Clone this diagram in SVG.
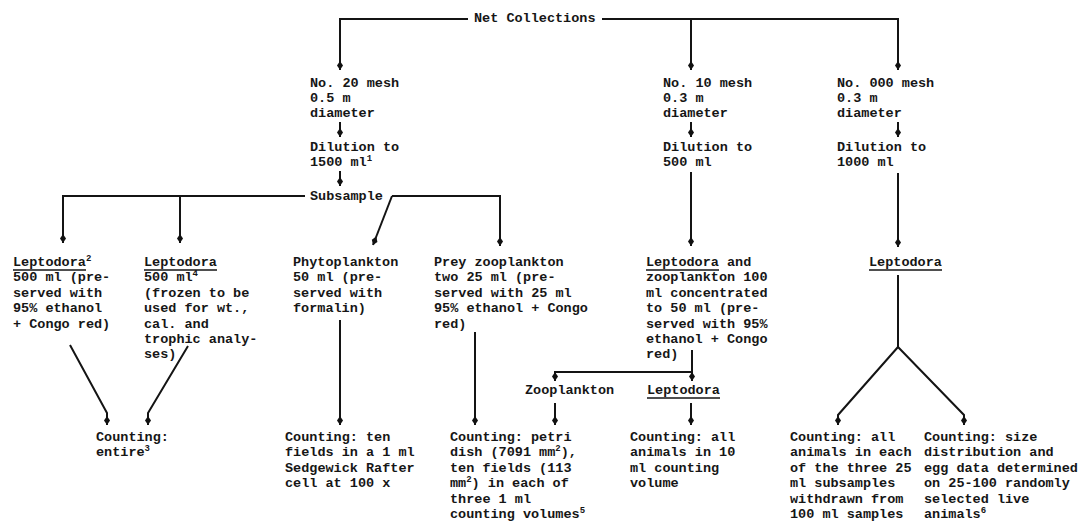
<svg xmlns="http://www.w3.org/2000/svg" width="1082" height="527" viewBox="0 0 1082 527">
<defs>
<marker id="dia" markerUnits="userSpaceOnUse" markerWidth="12" markerHeight="8" viewBox="-10 -4 12 8" refX="0" refY="0" orient="auto">
<path d="M0,0 L-4.5,-3 L-9,0 L-4.5,3 Z" fill="#111"/>
</marker>
<style>
text{font-family:"Liberation Mono","DejaVu Sans Mono",monospace;font-size:13.5px;font-weight:bold;fill:#161616}
.c{fill:none;stroke:#141414;stroke-width:2}
.a{marker-end:url(#dia)}
.u{stroke:#141414;stroke-width:1.5}
.s{font-size:9px}
</style>
</defs>
<rect width="1082" height="527" fill="#fff"/>
<g id="connectors">
<path class="c a" d="M468,19 H340 V70"/>
<path class="c a" d="M602,19 H898 V70"/>
<path class="c a" d="M691,19 V70"/>
<path class="c a" d="M340,122 V137"/>
<path class="c a" d="M340,171 V186"/>
<path class="c a" d="M691,122 V137"/>
<path class="c a" d="M898,122 V137"/>
<path class="c a" d="M305,196 H63 V243"/>
<path class="c a" d="M180,196 V243"/>
<path class="c a" d="M392,196 H500 V246"/>
<path class="c a" d="M392,196 L373,245"/>
<path class="c a" d="M691,172 V246"/>
<path class="c a" d="M898,173 V247"/>
<path class="c" d="M898,275 V347"/>
<path class="c a" d="M898,347 L838,415 V425"/>
<path class="c a" d="M898,347 L964,415 V425"/>
<path class="c a" d="M70,345 L107,413 V425"/>
<path class="c a" d="M188,346 L148,413 V425"/>
<path class="c a" d="M340,320 V425"/>
<path class="c a" d="M475,332 V425"/>
<path class="c a" d="M692,350 V381"/>
<path class="c a" d="M692,372 H555 V381"/>
<path class="c a" d="M555,403 V425"/>
<path class="c a" d="M691,403 V425"/>
</g>
<g id="net-collections"><text x="474" y="22">Net Collections</text></g>
<g id="mesh20">
<text x="310" y="87">No. 20 mesh</text>
<text x="310" y="102">0.5 m</text>
<text x="310" y="117">diameter</text>
</g>
<g id="dilution1500">
<text x="310" y="151">Dilution to</text>
<text x="310" y="166">1500 ml<tspan class="s" dy="-5">1</tspan></text>
</g>
<g id="subsample"><text x="310" y="200">Subsample</text></g>
<g id="mesh10">
<text x="663" y="87">No. 10 mesh</text>
<text x="663" y="102">0.3 m</text>
<text x="663" y="117">diameter</text>
</g>
<g id="dilution500">
<text x="663" y="151">Dilution to</text>
<text x="663" y="166">500 ml</text>
</g>
<g id="mesh000">
<text x="837" y="87">No. 000 mesh</text>
<text x="837" y="102">0.3 m</text>
<text x="837" y="117">diameter</text>
</g>
<g id="dilution1000">
<text x="837" y="151">Dilution to</text>
<text x="837" y="166">1000 ml</text>
</g>
<g id="leptodora-ethanol">
<text x="13" y="266">Leptodora<tspan class="s" dy="-5">2</tspan></text>
<line class="u" x1="13" y1="270" x2="86" y2="270"/>
<text x="13" y="281.4">500 ml (pre-</text>
<text x="13" y="296.8">served with</text>
<text x="13" y="312.2">95% ethanol</text>
<text x="13" y="327.6">+ Congo red)</text>
</g>
<g id="leptodora-frozen">
<text x="144" y="266">Leptodora</text>
<line class="u" x1="144" y1="270" x2="217" y2="270"/>
<text x="144" y="281.4">500 ml<tspan class="s" dy="-5">4</tspan></text>
<text x="144" y="296.8">(frozen to be</text>
<text x="144" y="312.2">used for wt.,</text>
<text x="144" y="327.6">cal. and</text>
<text x="144" y="343">trophic analy-</text>
<text x="144" y="358.4">ses)</text>
</g>
<g id="phytoplankton">
<text x="293" y="266">Phytoplankton</text>
<text x="293" y="281.4">50 ml (pre-</text>
<text x="293" y="296.8">served with</text>
<text x="293" y="312.2">formalin)</text>
</g>
<g id="prey-zooplankton">
<text x="434" y="266">Prey zooplankton</text>
<text x="434" y="281.4">two 25 ml (pre-</text>
<text x="434" y="296.8">served with 25 ml</text>
<text x="434" y="312.2">95% ethanol + Congo</text>
<text x="434" y="327.6">red)</text>
</g>
<g id="leptodora-zooplankton">
<text x="646" y="266">Leptodora and</text>
<line class="u" x1="646" y1="270" x2="719" y2="270"/>
<text x="646" y="281.4">zooplankton 100</text>
<text x="646" y="296.8">ml concentrated</text>
<text x="646" y="312.2">to 50 ml (pre-</text>
<text x="646" y="327.6">served with 95%</text>
<text x="646" y="343">ethanol + Congo</text>
<text x="646" y="358.4">red)</text>
</g>
<g id="leptodora-live">
<text x="869" y="266">Leptodora</text>
<line class="u" x1="869" y1="270" x2="942" y2="270"/>
</g>
<g id="zooplankton"><text x="525" y="394">Zooplankton</text></g>
<g id="leptodora-sub">
<text x="647" y="394">Leptodora</text>
<line class="u" x1="647" y1="398" x2="720" y2="398"/>
</g>
<g id="count-entire">
<text x="96" y="441">Counting:</text>
<text x="96" y="456.4">entire<tspan class="s" dy="-5">3</tspan></text>
</g>
<g id="count-ten">
<text x="285" y="441">Counting: ten</text>
<text x="285" y="456.4">fields in a 1 ml</text>
<text x="285" y="471.8">Sedgewick Rafter</text>
<text x="285" y="487.2">cell at 100 x</text>
</g>
<g id="count-petri">
<text x="450" y="441">Counting: petri</text>
<text x="450" y="456.4">dish (7091 mm<tspan class="s" dy="-5">2</tspan><tspan dy="5">),</tspan></text>
<text x="450" y="471.8">ten fields (113</text>
<text x="450" y="487.2">mm<tspan class="s" dy="-5">2</tspan><tspan dy="5">) in each of</tspan></text>
<text x="450" y="502.6">three 1 ml</text>
<text x="450" y="518">counting volumes<tspan class="s" dy="-5">5</tspan></text>
</g>
<g id="count-all10">
<text x="630" y="441">Counting: all</text>
<text x="630" y="456.4">animals in 10</text>
<text x="630" y="471.8">ml counting</text>
<text x="630" y="487.2">volume</text>
</g>
<g id="count-all25">
<text x="790" y="441">Counting: all</text>
<text x="790" y="456.4">animals in each</text>
<text x="790" y="471.8">of the three 25</text>
<text x="790" y="487.2">ml subsamples</text>
<text x="790" y="502.6">withdrawn from</text>
<text x="790" y="518">100 ml samples</text>
</g>
<g id="count-size">
<text x="924" y="441">Counting: size</text>
<text x="924" y="456.4">distribution and</text>
<text x="924" y="471.8">egg data determined</text>
<text x="924" y="487.2">on 25-100 randomly</text>
<text x="924" y="502.6">selected live</text>
<text x="924" y="518">animals<tspan class="s" dy="-5">6</tspan></text>
</g>
</svg>
